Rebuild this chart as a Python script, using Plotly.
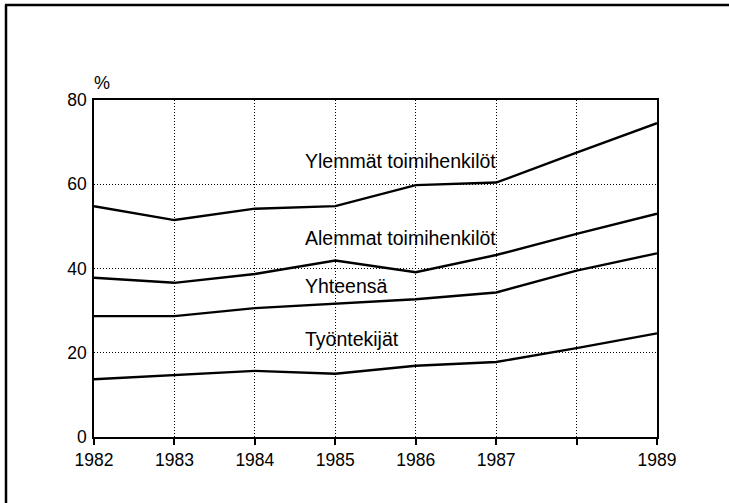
import plotly.graph_objects as go

# Years on the horizontal axis (1988 has a grid line but no label)
years = [1982, 1983, 1984, 1985, 1986, 1987, 1988, 1989]
year_labels = ["1982", "1983", "1984", "1985", "1986", "1987", "", "1989"]

# Share (%) by group
ylemmat = [54.8, 51.5, 54.2, 54.8, 59.8, 60.4, 67.5, 74.5]
alemmat = [37.8, 36.6, 38.7, 41.9, 39.1, 43.2, 48.2, 53.0]
yhteensa = [28.7, 28.7, 30.6, 31.6, 32.7, 34.3, 39.5, 43.6]
tyontekijat = [13.7, 14.7, 15.7, 15.0, 16.9, 17.8, 21.1, 24.6]

series_names = ["Ylemmät toimihenkilöt", "Alemmat toimihenkilöt", "Yhteensä", "Työntekijät"]
series_values = [ylemmat, alemmat, yhteensa, tyontekijat]
label_x = [1984.6, 1984.6, 1984.6, 1984.6]
label_y = [65.6, 47.3, 35.9, 23.2]

y_ticks = [0, 20, 40, 60, 80]

W, H = 729, 503
L, R, T, B = 94, 72, 100, 66
FONT = "Liberation Sans, Arial, Helvetica, sans-serif"

fig = go.Figure()
for name, vals in zip(series_names, series_values):
    fig.add_trace(go.Scatter(
        x=years, y=vals, mode="lines", name=name,
        line=dict(color="black", width=2.4), showlegend=False,
    ))

for name, lx, ly in zip(series_names, label_x, label_y):
    fig.add_annotation(x=lx, y=ly, text=name, showarrow=False,
                       xanchor="left", yanchor="middle",
                       font=dict(family=FONT, size=19.5, color="black"))

# unit label above the value axis
fig.add_annotation(xref="paper", yref="paper", x=0.0, y=1.0, yshift=17,
                   xshift=8, text="%", showarrow=False,
                   xanchor="center", yanchor="middle",
                   font=dict(family=FONT, size=18, color="black"))

# outer frame (top and left edges)
pw = W - L - R
ph = H - T - B
def px_x(p):
    return (p - L) / pw
def px_y(p):
    return 1 - (p - T) / ph
fig.add_shape(type="line", xref="paper", yref="paper",
              x0=px_x(5), x1=px_x(729), y0=px_y(5), y1=px_y(5),
              line=dict(color="black", width=2.5))
fig.add_shape(type="line", xref="paper", yref="paper",
              x0=px_x(6), x1=px_x(6), y0=px_y(5), y1=px_y(503),
              line=dict(color="black", width=2.5))

fig.update_xaxes(
    range=[1982, 1989], tickmode="array", tickvals=years, ticktext=year_labels,
    showline=True, linecolor="black", linewidth=1.5, mirror=True,
    ticks="outside", ticklen=6, tickwidth=1.5, tickcolor="black",
    showgrid=True, gridcolor="black", griddash="1px,2px", gridwidth=1,
    zeroline=False,
    tickfont=dict(family=FONT, size=17.5, color="black"),
)
fig.update_yaxes(
    range=[0, 80], tickmode="array", tickvals=y_ticks,
    showline=True, linecolor="black", linewidth=1.5, mirror=True,
    ticks="", ticklabelstandoff=2,
    showgrid=True, gridcolor="black", griddash="1px,2px", gridwidth=1,
    zeroline=False,
    tickfont=dict(family=FONT, size=17.5, color="black"),
)

fig.update_layout(
    width=W, height=H,
    margin=dict(l=L, r=R, t=T, b=B),
    paper_bgcolor="white", plot_bgcolor="white",
    font=dict(family=FONT, color="black"),
)

fig.write_html("out.html", config={"displayModeBar": False})
